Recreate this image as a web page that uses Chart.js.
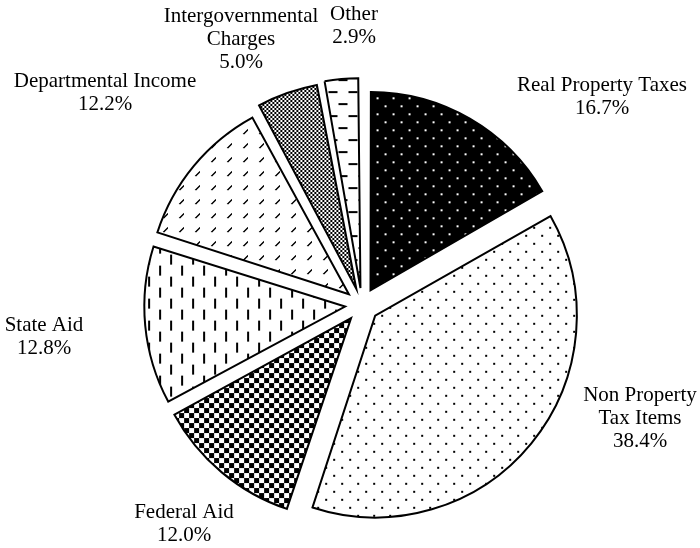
<!DOCTYPE html>
<html><head><meta charset="utf-8">
<script src="https://cdn.jsdelivr.net/npm/chart.js@4.4.1/dist/chart.umd.min.js"></script>
<style>html,body{margin:0;padding:0;background:#fff;} #wrap{width:700px;height:548px;}</style>
</head><body><div id="wrap"><canvas id="c" width="700" height="548"></canvas></div>
<script>
const categories = ["Real Property Taxes","Non Property Tax Items","Federal Aid","State Aid","Departmental Income","Intergovernmental Charges","Other"];
const shares = [16.7, 38.4, 12.0, 12.8, 12.2, 5.0, 2.9];
const labelNameLines = [["Real Property Taxes"],["Non Property","Tax Items"],["Federal Aid"],["State Aid"],["Departmental Income"],["Intergovernmental","Charges"],["Other"]];

const canvas = document.getElementById('c');
const ctx = canvas.getContext('2d');

function makePattern(w, h, bg, fg, draw) {
  const c = document.createElement('canvas');
  c.width = w; c.height = h;
  const x = c.getContext('2d');
  x.fillStyle = bg; x.fillRect(0, 0, w, h);
  x.fillStyle = fg;
  draw(x);
  return ctx.createPattern(c, 'repeat');
}
const patterns = [
  makePattern(16, 16, '#000', '#fff', x => { x.fillRect(0,0,2,2); x.fillRect(8,8,2,2); }),
  makePattern(16, 16, '#fff', '#000', x => { x.fillRect(0,0,2,2); x.fillRect(8,8,2,2); }),
  makePattern(10, 10, '#fff', '#000', x => { x.fillRect(0,0,5,5); x.fillRect(5,5,5,5); }),
  makePattern(22, 22, '#fff', '#000', x => { x.fillRect(0,0,2,10); x.fillRect(11,11,2,10); }),
  makePattern(16, 14, '#fff', '#000', x => { for (let i=0;i<5;i++) x.fillRect(i,4-i,1,1); for (let i=0;i<4;i++) x.fillRect(i+1,4-i,1,1); }),
  makePattern(4, 4, '#fff', '#000', x => { x.fillRect(0,0,2,2); x.fillRect(2,2,2,2); }),
  makePattern(20, 24, '#fff', '#000', x => { x.fillRect(0,0,9,2); x.fillRect(10,12,9,2); })
];

// label anchor offsets relative to pie centre (layout only)
const labelOffsets = [[240,-220],[278,90],[-178,207],[-318,20],[-257,-224],[-121,-289],[-8,-291]];

const labelPlugin = {
  id: 'pieLabels',
  afterDraw(chart) {
    const meta = chart.getDatasetMeta(0);
    const arc = meta.data[0];
    const c = chart.ctx;
    c.save();
    c.fillStyle = '#000';
    c.font = '21px "Liberation Serif", "Times New Roman", serif';
    c.textAlign = 'center';
    c.textBaseline = 'middle';
    shares.forEach((v, i) => {
      const lines = labelNameLines[i].concat([v.toFixed(1) + '%']);
      const [dx, dy] = labelOffsets[i];
      lines.forEach((t, j) => c.fillText(t, arc.x + dx, arc.y + dy + j * 23));
    });
    c.restore();
  }
};

new Chart(canvas, {
  type: 'pie',
  data: {
    labels: categories,
    datasets: [{
      data: shares,
      backgroundColor: patterns,
      borderColor: '#000',
      borderWidth: 2,
      borderJoinStyle: 'miter',
      offset: 68,
      hoverOffset: 0
    }]
  },
  options: {
    responsive: false,
    animation: false,
    events: [],
    radius: 196,
    layout: { padding: { left: 24, top: 62, right: 0, bottom: 0 } },
    plugins: { legend: { display: false }, tooltip: { enabled: false } }
  },
  plugins: [labelPlugin]
});
</script>
</body></html>
